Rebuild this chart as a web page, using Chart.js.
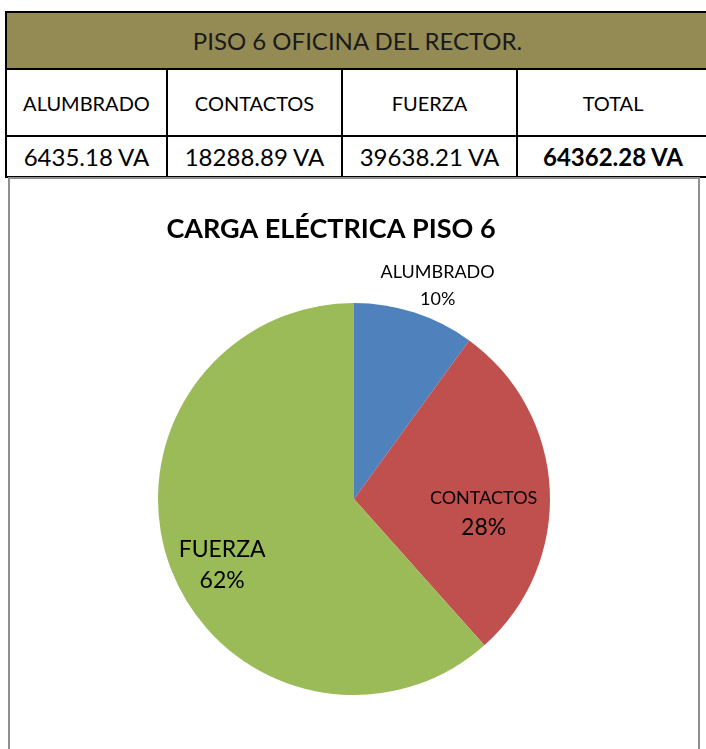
<!DOCTYPE html>
<html>
<head>
<meta charset="utf-8">
<script src="https://cdn.jsdelivr.net/npm/chart.js@4"></script>
<style>
  body { margin: 0; width: 706px; height: 749px; overflow: hidden; background: #fff; font-family: Lato, "Open Sans", sans-serif; position: relative; }
  #tabla { position: absolute; left: 5px; top: 11px; width: 711px; border-collapse: collapse; table-layout: fixed; }
  #tabla td { border: 2px solid #000; text-align: center; padding: 0; color: #000; white-space: nowrap; }
  #tabla .enc { background: #948A54; height: 55px; font-size: 24px; color: #1a1a1a; }
  #tabla .cat td { height: 65px; font-size: 20px; }
  #tabla .val td { height: 39px; font-size: 24px; }
  #caja { position: absolute; left: 8px; top: 177px; width: 688px; height: 600px; border: 2px solid #8f8f8f; border-bottom: none; }
  #caja canvas { display: block; }
</style>
</head>
<body>
<table id="tabla">
  <colgroup><col style="width:161px"><col style="width:175px"><col style="width:175px"><col style="width:200px"></colgroup>
  <tr><td class="enc" colspan="4"><span style="position:relative;left:-4px">PISO 6 OFICINA DEL RECTOR.</span></td></tr>
  <tr class="cat" id="filaCat"></tr>
  <tr class="val" id="filaVal"></tr>
</table>
<div id="caja"><canvas id="myChart" width="688" height="572"></canvas></div>
<script>
const categorias = ['ALUMBRADO', 'CONTACTOS', 'FUERZA'];
const cargasVA = [6435.18, 18288.89, 39638.21];
const totalVA = 64362.28;
const colores = ['#4F81BD', '#C0504D', '#9BBB59'];

// filas de la tabla
const filaCat = document.getElementById('filaCat');
const filaVal = document.getElementById('filaVal');
categorias.concat(['TOTAL']).forEach(c => {
  const td = document.createElement('td');
  td.textContent = c;
  filaCat.appendChild(td);
});
cargasVA.forEach(v => {
  const td = document.createElement('td');
  td.textContent = v.toFixed(2) + ' VA';
  filaVal.appendChild(td);
});
const tdTotal = document.createElement('td');
tdTotal.textContent = totalVA.toFixed(2) + ' VA';
tdTotal.style.fontWeight = 'bold';
tdTotal.style.paddingRight = '8px';
filaVal.appendChild(tdTotal);
filaCat.lastChild.style.paddingRight = '8px';

// donde va cada etiqueta: factor de radio, giro en grados, tamaños y separacion
const etiquetas = [
  { r: 1.17, giro: 3.4, tam: [18, 18], sep: 27 },
  { r: 0.665, giro: 8.9, tam: [18, 23], sep: 30 },
  { r: 0.752, giro: -5.7, tam: [23, 23], sep: 31 }
];

const pluginEtiquetas = {
  id: 'etiquetas',
  afterDraw(chart) {
    const ctx = chart.ctx;
    const suma = cargasVA.reduce((a, b) => a + b, 0);
    ctx.save();
    // titulo
    ctx.fillStyle = '#000';
    ctx.font = 'bold 27px Lato';
    ctx.textAlign = 'center';
    ctx.textBaseline = 'middle';
    ctx.fillText('CARGA ELÉCTRICA PISO 6', chart.chartArea.left + chart.chartArea.width / 2 - 23, 50);

    chart.getDatasetMeta(0).data.forEach((arc, i) => {
      const e = etiquetas[i];
      const medio = (arc.startAngle + arc.endAngle) / 2 + e.giro * Math.PI / 180;
      const x = arc.x + Math.cos(medio) * arc.outerRadius * e.r;
      const y = arc.y + Math.sin(medio) * arc.outerRadius * e.r;
      const pct = Math.round(cargasVA[i] / suma * 100) + '%';
      ctx.font = e.tam[0] + 'px Lato';
      ctx.fillText(categorias[i], x, y - e.sep / 2);
      ctx.font = e.tam[1] + 'px Lato';
      ctx.fillText(pct, x, y + e.sep / 2);
    });
    ctx.restore();
  }
};

new Chart(document.getElementById('myChart'), {
  type: 'pie',
  data: {
    labels: categorias,
    datasets: [{
      data: cargasVA,
      backgroundColor: colores,
      borderWidth: 0
    }]
  },
  options: {
    responsive: false,
    animation: false,
    layout: { padding: { top: 124, bottom: 56 } },
    plugins: {
      legend: { display: false },
      tooltip: { enabled: false },
      title: { display: false }
    }
  },
  plugins: [pluginEtiquetas]
});
</script>
</body>
</html>
